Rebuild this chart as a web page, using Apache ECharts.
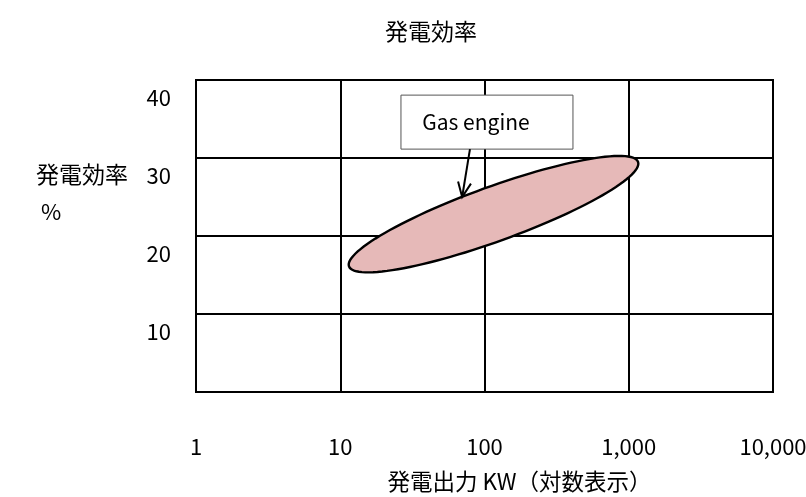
<!DOCTYPE html>
<html>
<head>
<meta charset="utf-8">
<script src="https://cdn.jsdelivr.net/npm/echarts@6/dist/echarts.min.js"></script>
<style>
html,body{margin:0;padding:0;background:#fff;}
#c{width:806px;height:497px;}
</style>
</head>
<body>
<div id="c"></div>
<script>
// ---- data ----
const chartTitle = '発電効率';
const xAxisName = '発電出力 KW（対数表示）';
const yAxisName = '発電効率';
const yAxisUnit = '%';
const xTicks = [1, 10, 100, 1000, 10000];
const yTicks = [0, 10, 20, 30, 40];
// ellipse region for gas engines: lower-left tip, upper-right tip (kW, %), half width (%)
const gasEngineTipLow = [11.5, 16.1];
const gasEngineTipHigh = [1160, 29.5];
const gasEngineHalfWidth = 3.5;
// annotation: label box centre and arrow target (kW, %)
const noteText = 'Gas engine';
const notePos = [104, 34.6];
const noteTarget = [70, 25.0];

const FONT = "'Noto Sans CJK JP', 'Noto Sans', sans-serif";
const chart = echarts.init(document.getElementById('c'));

function fmtNum(v) {
  return Math.round(v).toLocaleString('en-US');
}

chart.setOption({
  backgroundColor: '#fff',
  animation: false,
  title: {
    text: chartTitle,
    left: 380, top: 15,
    textStyle: { fontFamily: FONT, fontSize: 23, fontWeight: 'normal', color: '#000' }
  },
  grid: { left: 196, right: 33, top: 80, bottom: 105, show: true, borderColor: '#000', borderWidth: 2, outerBoundsMode: 'none', containLabel: false },
  xAxis: {
    type: 'log', logBase: 10,
    min: xTicks[0], max: xTicks[xTicks.length - 1],
    name: xAxisName, nameLocation: 'middle', nameGap: 78,
    nameTextStyle: { fontFamily: FONT, fontSize: 22.5, color: '#000', padding: [0, 0, 0, 70] },
    axisLine: { show: true, lineStyle: { color: '#000', width: 2 } },
    axisTick: { show: false },
    axisLabel: { margin: 44, fontFamily: FONT, fontSize: 22, color: '#000', formatter: fmtNum, showMinLabel: true, showMaxLabel: true },
    splitLine: { show: true, lineStyle: { color: '#000', width: 2 } },
    minorSplitLine: { show: false }
  },
  yAxis: {
    type: 'value', min: yTicks[0], max: yTicks[yTicks.length - 1], interval: 10,
    axisLine: { show: true, lineStyle: { color: '#000', width: 2 } },
    axisTick: { show: false },
    axisLabel: {
      margin: 25, fontFamily: FONT, fontSize: 22, color: '#000',
      verticalAlign: 'top', lineHeight: 36,
      formatter: v => (v === 0 ? '' : String(v))
    },
    splitLine: { show: true, lineStyle: { color: '#000', width: 2 } }
  },
  graphic: [
    { type: 'text', left: 36, top: 163, style: { text: yAxisName, font: '23px ' + FONT, fill: '#000' } },
    { type: 'text', left: 41, top: 201, style: { text: yAxisUnit, font: '22px ' + FONT, fill: '#000' } }
  ],
  series: [
    {
      type: 'custom',
      name: 'Gas engine',
      coordinateSystem: 'cartesian2d',
      data: [[gasEngineTipLow[0], gasEngineTipLow[1], gasEngineTipHigh[0], gasEngineTipHigh[1], gasEngineHalfWidth]],
      encode: { x: [0, 2], y: [1, 3] },
      renderItem: function (params, api) {
        const p1 = api.coord([api.value(0), api.value(1)]);
        const p2 = api.coord([api.value(2), api.value(3)]);
        const mid = [(p1[0] + p2[0]) / 2, (p1[1] + p2[1]) / 2];
        const dx = p2[0] - p1[0], dy = p2[1] - p1[1];
        const a = Math.sqrt(dx * dx + dy * dy) / 2;
        const ref = api.coord([api.value(0), api.value(1) + api.value(4)]);
        const b = Math.abs(ref[1] - p1[1]);
        const ang = Math.atan2(dy, dx);
        const pts = [];
        for (let i = 0; i < 120; i++) {
          const t = i / 120 * Math.PI * 2;
          const u = a * Math.cos(t), w = b * Math.sin(t);
          pts.push([mid[0] + u * Math.cos(ang) - w * Math.sin(ang), mid[1] + u * Math.sin(ang) + w * Math.cos(ang)]);
        }
        return {
          type: 'polygon',
          shape: { points: pts },
          style: { fill: '#e6b9b8', stroke: '#000', lineWidth: 2.4 }
        };
      },
      z: 3
    },
    {
      type: 'custom',
      name: 'note',
      coordinateSystem: 'cartesian2d',
      data: [[notePos[0], notePos[1], noteTarget[0], noteTarget[1]]],
      encode: { x: [0, 2], y: [1, 3] },
      renderItem: function (params, api) {
        const c = api.coord([api.value(0), api.value(1)]);
        const t = api.coord([api.value(2), api.value(3)]);
        const w = 172, h = 54;
        const start = [c[0] - 17, c[1] + h / 2];
        const ang = Math.atan2(t[1] - start[1], t[0] - start[0]);
        const hl = 16, ha = 0.42;
        const w1 = [t[0] - hl * Math.cos(ang - ha), t[1] - hl * Math.sin(ang - ha)];
        const w2 = [t[0] - hl * Math.cos(ang + ha), t[1] - hl * Math.sin(ang + ha)];
        return {
          type: 'group',
          children: [
            { type: 'rect', shape: { x: c[0] - w / 2, y: c[1] - h / 2, width: w, height: h },
              style: { fill: '#fff', stroke: '#555', lineWidth: 1 } },
            { type: 'text', x: c[0] - 11, y: c[1],
              style: { text: noteText, font: '21px ' + FONT, fill: '#000', align: 'center', verticalAlign: 'middle' } },
            { type: 'line', shape: { x1: start[0], y1: start[1], x2: t[0], y2: t[1] }, style: { stroke: '#000', lineWidth: 2 } },
            { type: 'polyline', shape: { points: [w1, t, w2] }, style: { stroke: '#000', lineWidth: 2, fill: null } }
          ]
        };
      },
      z: 5
    }
  ]
});
</script>
</body>
</html>
